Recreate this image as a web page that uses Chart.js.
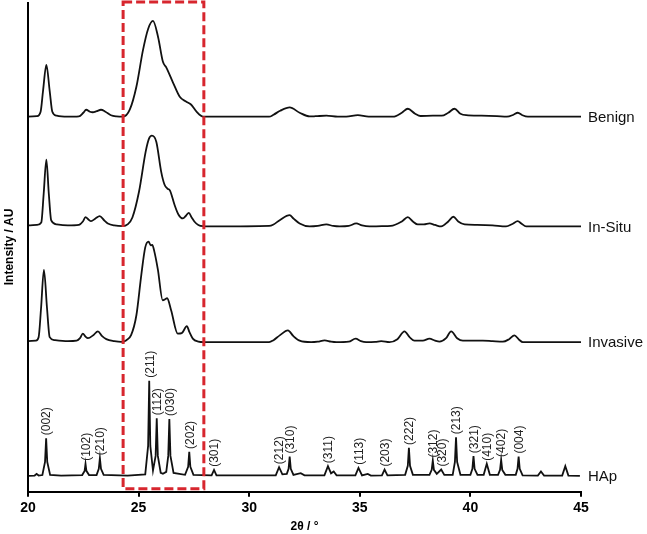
<!DOCTYPE html>
<html>
<head>
<meta charset="utf-8">
<script src="https://cdn.jsdelivr.net/npm/chart.js@4.4.0/dist/chart.umd.min.js"></script>
<style>
  html, body { margin: 0; padding: 0; background: #fff; }
  #wrap { width: 647px; height: 534px; position: relative; }
</style>
</head>
<body>
<div id="wrap"><canvas id="xrdChart"></canvas></div>
<script>
// sample names, drawn at the right end of each trace
var sampleNames = ['Benign', 'In-Situ', 'Invasive', 'HAp'];
// vertical stacking offset of each trace (AU)
var sampleOffsets = [376, 266, 150, 16];

// traces: [2theta, intensity above own baseline]
var benignData = [
  [20.0,0],[20.4,0.5],[20.57,5],[20.68,26],[20.83,52],[20.98,26],[21.1,5],[21.3,1],[21.8,0],
  [22.3,0.3],[22.5,4],[22.63,7],[22.8,5],[22.93,4.5],[23.1,5.5],[23.3,7],[23.5,5],[23.75,1.5],
  [24.0,0.3],[24.3,0],[24.6,7],[24.9,30],[25.2,67],[25.43,88],[25.65,96],[25.88,80],[26.1,55],
  [26.26,49],[26.56,34],[26.86,20],[27.16,15],[27.38,12],[27.62,5],[27.92,0],[28.5,0],[29.5,0],
  [30.9,0],[31.1,2],[31.4,6],[31.83,9.3],[32.28,4],[32.73,0.3],[33.0,0.5],[33.49,1],[34.0,0],
  [34.39,0],[34.91,1.5],[35.4,0],[36.5,0],[36.9,4],[37.17,8],[37.5,3],[37.75,0.7],[38.3,1],
  [38.7,1],[39.0,4],[39.28,8],[39.55,3],[39.81,1.5],[40.5,1],[41.2,0.5],[41.65,0],[41.95,2],
  [42.14,4],[42.35,1.5],[42.6,0],[45,0]
];
var inSituData = [
  [20.0,1],[20.4,1.5],[20.6,4],[20.71,33],[20.83,67],[20.94,33],[21.05,6],[21.3,2],[21.8,1],
  [22.3,1.5],[22.48,5],[22.6,9.3],[22.73,7],[22.85,5.3],[23.05,8],[23.24,10.3],[23.45,6],[23.61,3],
  [23.9,1],[24.29,0.3],[24.5,2],[24.72,9],[25.02,35],[25.32,75],[25.47,88],[25.6,91],[25.8,85],
  [26.02,55],[26.17,42],[26.3,38],[26.42,36],[26.62,22],[26.8,12],[27.0,8],[27.15,11],[27.27,13.7],
  [27.4,9],[27.52,5],[27.7,1.5],[27.91,0.3],[28.5,0],[30.9,0.5],[31.1,2],[31.38,6.3],[31.83,11.3],
  [32.0,8],[32.28,3],[32.73,0],[33.1,0.5],[33.49,2],[33.8,0.5],[34.09,0],[34.5,0.5],[34.84,3],
  [35.1,1],[35.44,0],[36.0,0.3],[36.4,0.5],[36.9,5],[37.17,9.3],[37.4,5],[37.62,2],[37.9,2],
  [38.15,3],[38.4,1.5],[38.68,0],[39.0,5],[39.23,9.7],[39.45,5],[39.74,2],[40.3,1.5],[41.0,1],
  [41.61,0],[41.9,2.5],[42.14,5.3],[42.3,3],[42.52,0],[45,0]
];
var invasiveData = [
  [20.0,1],[20.35,1.5],[20.48,5],[20.59,34],[20.72,72.5],[20.86,34],[20.98,5],[21.2,2],[21.8,1],
  [22.2,1.5],[22.35,4],[22.48,8.5],[22.6,5.5],[22.71,4],[22.95,7],[23.16,10.8],[23.35,6],[23.54,3],
  [23.9,1],[24.21,0.2],[24.45,2],[24.66,7],[24.9,27],[25.12,67],[25.3,95],[25.45,100.8],[25.55,97],
  [25.62,97.5],[25.7,92],[25.87,73],[26.09,42],[26.2,43],[26.29,44],[26.47,32],[26.77,8.5],
  [26.95,9],[27.18,16],[27.3,10],[27.45,3.5],[27.7,0.5],[27.95,0],[28.5,0],[30.9,0],[31.1,2],
  [31.38,6.8],[31.75,11.8],[32.0,6],[32.28,1.5],[32.8,0],[33.1,0.5],[33.41,1.8],[33.7,0.5],
  [33.94,0],[34.5,0.5],[34.81,3.5],[35.05,1],[35.29,0],[35.7,0.3],[35.97,1],[36.34,0],[36.7,3],
  [37.02,10.8],[37.25,5],[37.47,1.5],[37.85,1.5],[38.15,3.5],[38.4,1.5],[38.6,0.5],[38.9,4],
  [39.13,10.8],[39.4,4],[39.66,1.5],[40.1,1.5],[40.56,1.5],[41.0,1],[41.47,0.5],[41.75,3],
  [41.99,6.8],[42.2,2.5],[42.37,0],[45,0]
];
var hapData = [
  [20.0,0],[20.3,0.3],[20.39,2],[20.48,0.3],[20.65,0.8],[20.77,14],[20.82,37.7],[20.87,14],[21.0,1],
  [21.5,0.3],[22.45,0.8],[22.56,5],[22.6,12],[22.64,5],[22.76,0.8],[23.1,0.8],[23.2,7],[23.25,17.7],
  [23.3,7],[23.42,1],[24.5,0.3],[25.3,1.5],[25.43,30],[25.48,95.3],[25.53,30],[25.65,5.3],[25.77,20],
  [25.82,57.7],[25.87,20],[26.0,3],[26.1,2],[26.25,4],[26.34,20],[26.39,57],[26.44,20],[26.58,3],
  [27.1,1],[27.24,9],[27.29,24],[27.34,9],[27.48,1],[28.3,0.5],[28.41,6],[28.52,0.5],[31.2,0.5],
  [31.35,8.7],[31.5,1.5],[31.7,2],[31.78,7],[31.83,19.3],[31.88,7],[32.0,1],[32.33,2.7],[32.5,0.5],
  [33.4,0.5],[33.56,9.7],[33.7,2.5],[33.82,4.3],[33.95,0.5],[34.8,0.5],[34.94,8],[35.1,0.5],
  [35.36,2],[35.5,0.3],[36.0,0.5],[36.12,6.3],[36.25,0.5],[37.05,1],[37.17,10],[37.22,28],[37.27,10],
  [37.4,1],[38.15,1],[38.25,6],[38.3,15.3],[38.35,6],[38.48,2],[38.68,6.3],[38.82,1],[39.2,1],
  [39.3,14],[39.35,38.7],[39.4,14],[39.55,1],[40.0,1],[40.09,7],[40.14,19.7],[40.19,7],[40.32,1],
  [40.6,1],[40.74,12],[40.88,1],[41.25,1],[41.34,6],[41.39,16],[41.44,6],[41.58,1],[42.05,1],
  [42.13,7],[42.18,19.3],[42.23,7],[42.36,0.5],[43.05,0.3],[43.19,4.3],[43.33,0.3],[44.15,0.3],
  [44.29,9.7],[44.43,0.3],[44.95,0]
];

// HAp reflections: Miller indices, peak position, peak height
var hklLabels = ['(002)','(102)','(210)','(211)','(112)','(030)','(202)','(301)','(212)','(310)','(311)',
  '(113)','(203)','(222)','(312)','(320)','(213)','(321)','(410)','(402)','(004)'];
var hklPos = [20.82,22.6,23.25,25.48,25.82,26.39,27.29,28.41,31.35,31.83,33.56,
  34.94,36.12,37.22,38.3,38.68,39.35,40.14,40.74,41.39,42.18];
var hklHeight = [37.7,12,17.7,95.3,57.7,57,24,6,8.7,19.3,9.7,
  8,6.3,28,15.3,6.3,38.7,19.7,12,16,19.3];

// highlighted region (2theta)
var boxRange = [24.3, 27.95];

var xTicks = [20, 25, 30, 35, 40, 45];

var allData = [benignData, inSituData, invasiveData, hapData];
var datasets = allData.map(function (d, i) {
  return {
    label: sampleNames[i],
    data: d.map(function (p) { return { x: p[0], y: p[1] + sampleOffsets[i] }; }),
    borderColor: '#111',
    borderWidth: 1.8,
    pointRadius: 0,
    fill: false,
    tension: i === 3 ? 0 : 0.4,
    cubicInterpolationMode: i === 3 ? 'default' : 'monotone'
  };
});

var annotate = {
  id: 'annotate',
  afterDatasetsDraw: function (chart) {
    var ctx = chart.ctx, xs = chart.scales.x, ys = chart.scales.y, area = chart.chartArea;
    ctx.save();

    // y axis line
    ctx.strokeStyle = '#000';
    ctx.lineWidth = 2;
    ctx.beginPath();
    ctx.moveTo(area.left, area.top);
    ctx.lineTo(area.left, area.bottom);
    ctx.stroke();

    // y title
    ctx.save();
    ctx.translate(10, (area.top + area.bottom) / 2);
    ctx.rotate(-Math.PI / 2);
    ctx.font = 'bold 12px "Liberation Sans", Arial, sans-serif';
    ctx.fillStyle = '#000';
    ctx.textAlign = 'center';
    ctx.textBaseline = 'middle';
    ctx.fillText('Intensity / AU', 0, 0);
    ctx.restore();

    // red dashed box
    var bx1 = xs.getPixelForValue(boxRange[0]), bx2 = xs.getPixelForValue(boxRange[1]);
    ctx.strokeStyle = '#d7262e';
    ctx.lineWidth = 3;
    ctx.setLineDash([9, 4]);
    ctx.strokeRect(bx1, area.top, bx2 - bx1, area.bottom - 3 - area.top);
    ctx.setLineDash([]);

    // sample names
    ctx.font = '15px "Liberation Sans", Arial, sans-serif';
    ctx.fillStyle = '#111';
    ctx.textAlign = 'left';
    ctx.textBaseline = 'middle';
    sampleNames.forEach(function (n, i) {
      ctx.fillText(n, area.right + 7, ys.getPixelForValue(sampleOffsets[i]) + 1);
    });

    // hkl labels
    ctx.font = '12px "Liberation Sans", Arial, sans-serif';
    ctx.fillStyle = '#222';
    hklLabels.forEach(function (t, i) {
      var px = xs.getPixelForValue(hklPos[i]) + 1;
      var py = ys.getPixelForValue(sampleOffsets[3] + hklHeight[i]) - 3;
      ctx.save();
      ctx.translate(px, py);
      ctx.rotate(-Math.PI / 2);
      ctx.textAlign = 'left';
      ctx.textBaseline = 'middle';
      ctx.fillText(t, 0, 0);
      ctx.restore();
    });
    ctx.restore();
  }
};

new Chart(document.getElementById('xrdChart'), {
  type: 'line',
  data: { datasets: datasets },
  plugins: [annotate],
  options: {
    responsive: true,
    maintainAspectRatio: false,
    animation: false,
    layout: { padding: { left: 28, right: 66, top: 2, bottom: 0 } },
    plugins: { legend: { display: false }, tooltip: { enabled: false } },
    scales: {
      x: {
        type: 'linear',
        min: 20,
        max: 45,
        afterBuildTicks: function (axis) {
          axis.ticks = xTicks.map(function (v) { return { value: v }; });
        },
        ticks: {
          color: '#000',
          padding: 3,
          font: { family: '"Liberation Sans", Arial, sans-serif', size: 14, weight: 'bold' }
        },
        grid: { drawOnChartArea: false, drawTicks: true, tickLength: 5, color: '#000', lineWidth: 2 },
        border: { display: true, color: '#000', width: 2 },
        title: {
          display: true,
          text: '2θ / °',
          color: '#000',
          padding: { top: 0, bottom: 0 },
          font: { family: '"Liberation Sans", Arial, sans-serif', size: 12, weight: 'bold' }
        }
      },
      y: { display: false, min: 0, max: 491 }
    }
  }
});
</script>
</body>
</html>
